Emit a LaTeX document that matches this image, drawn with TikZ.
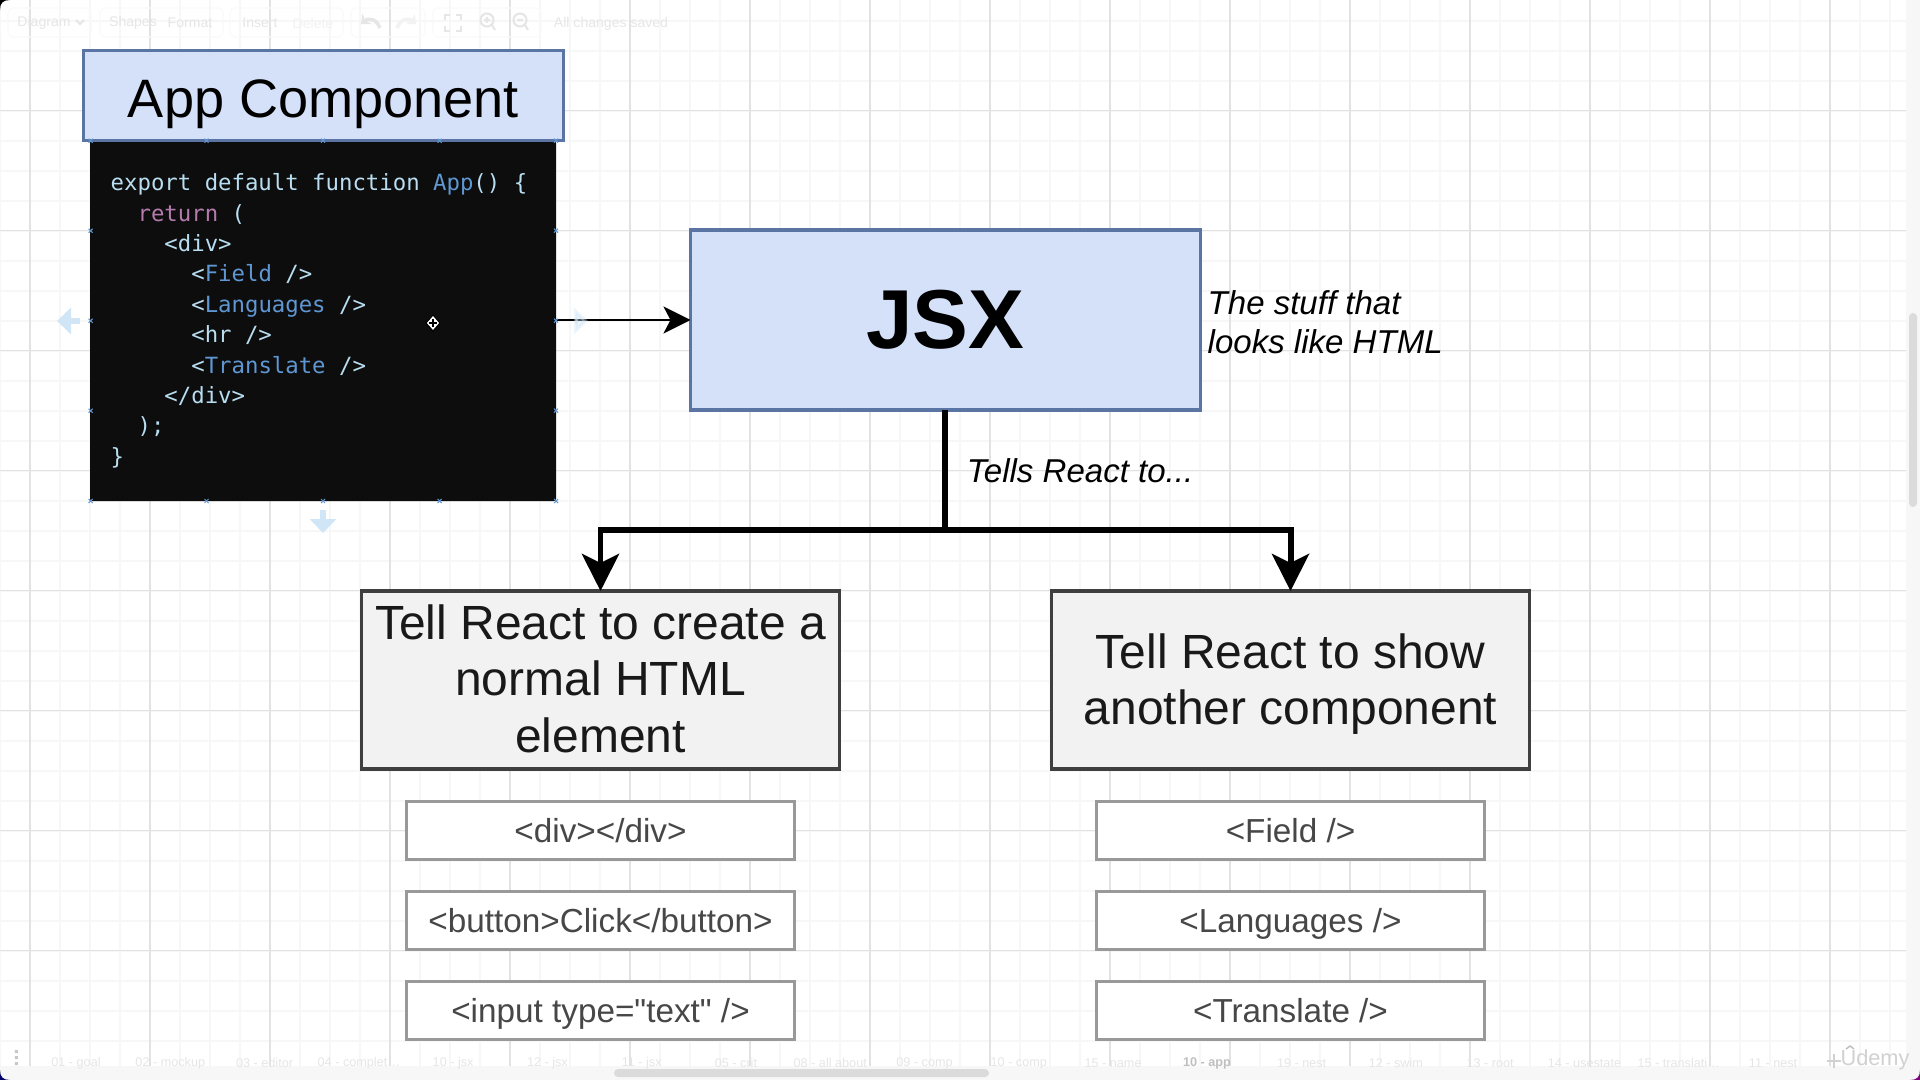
\documentclass[tikz,border=0pt]{standalone}
\usepackage{fontspec}
\setmainfont[Ligatures=TeXOff]{Liberation Sans}
\setmonofont{DejaVu Sans Mono}
\usetikzlibrary{arrows.meta}

\definecolor{gridmajor}{HTML}{E2E2E2}
\definecolor{gridminor}{HTML}{F7F7F7}
\definecolor{bluefill}{HTML}{D4E1F9}
\definecolor{blueline}{HTML}{5A74A3}
\definecolor{greyfill}{HTML}{F2F2F2}
\definecolor{darkline}{HTML}{3F3F3F}
\definecolor{tagline}{HTML}{999999}
\definecolor{tagtext}{HTML}{474747}
\definecolor{codeback}{HTML}{0D0D0D}
\definecolor{codetext}{HTML}{B9DEF2}
\definecolor{codecomp}{HTML}{5F97D3}
\definecolor{codekey}{HTML}{B57BAE}
\definecolor{handle}{HTML}{D0E6F6}
\definecolor{faint}{HTML}{E6E6E6}

\tikzset{
	titlebox/.style={draw=blueline,fill=bluefill,line width=1pt,outer sep=0pt,inner sep=0pt},
	tellbox/.style={draw=darkline,fill=greyfill,line width=1pt,outer sep=0pt,inner sep=0pt,
		minimum width=4.78cm,minimum height=1.78cm},
	telltext/.style={align=center,inner sep=0pt,text=black!90,
		font={\fontsize{13.65pt}{16.1pt}\selectfont}},
	tagbox/.style={draw=tagline,fill=white,line width=0.85pt,outer sep=0pt,inner sep=0pt,
		minimum width=3.88cm,minimum height=0.58cm,text=tagtext,text height=6.8pt,text depth=0pt,
		font={\fontsize{9.47pt}{11pt}\selectfont}},
	note/.style={align=left,inner sep=0pt,font={\itshape\fontsize{9.4pt}{11pt}\selectfont}},
	uitext/.style={inner sep=0pt,text=faint,font={\fontsize{4pt}{5pt}\selectfont}},
	tabtext/.style={inner sep=0pt,text=faint,font={\fontsize{3.6pt}{4pt}\selectfont}},
	uibox/.style={draw=black!2,rounded corners=0.05cm,line width=0.3pt},
	uiicon/.style={draw=faint,line width=0.6pt},
	handlearrow/.style={draw=handle,line width=1.5pt,-{Triangle[length=1.4mm,width=2.6mm]}},
	forkline/.style={line width=1.7pt,-{Stealth[length=3.7mm,width=3.7mm,inset=0.9mm]}},
	jsxline/.style={line width=0.85pt,-{Stealth[length=2.7mm,width=2.7mm,inset=0.7mm]}},
}
\newcommand{\comp}[1]{\textcolor{codecomp}{#1}}

\begin{document}
\begin{tikzpicture}[x=1cm,y=-1cm]
	\useasboundingbox (0,0) rectangle (19.2,10.8);
	\fill[white] (0,0) rectangle (19.2,10.8);

	%GRID
	\foreach \gx in {0,0.3,...,19.06} \draw[gridminor,line width=0.55pt] (\gx,0)--(\gx,10.66);
	\foreach \gy in {0.207,0.507,...,10.66} \draw[gridminor,line width=0.55pt] (0,\gy)--(19.06,\gy);
	\foreach \gx in {0.3,1.5,...,19.06} \draw[gridmajor,line width=0.4pt] (\gx,0)--(\gx,10.66);
	\foreach \gy in {1.107,2.307,...,10.66} \draw[gridmajor,line width=0.4pt] (0,\gy)--(19.06,\gy);

	%WINDOW EDGES
	\fill[black!3] (19.06,0) rectangle (19.2,10.8);
	\fill[black!3] (0,10.66) rectangle (19.2,10.8);
	\fill[black!14,rounded corners=0.04cm] (19.09,3.13) rectangle (19.17,5.07);
	\fill[black!14,rounded corners=0.04cm] (6.14,10.69) rectangle (9.89,10.77);
	\fill[black] (0,0)--(0.1,0) .. controls (0.03,0) and (0,0.03) .. (0,0.1)--cycle;
	\fill[blue!40!black] (0,10.7) .. controls (0,10.77) and (0.03,10.8) .. (0.1,10.8)--(0,10.8)--cycle;
	\fill[violet] (19.2,10.7) .. controls (19.2,10.77) and (19.17,10.8) .. (19.1,10.8)--(19.2,10.8)--cycle;

	%TOOLBAR
	\draw[uibox] (0.08,0.08) rectangle (0.91,0.37);
	\draw[uibox] (1,0.08) rectangle (2.23,0.37);
	\draw[uibox] (2.3,0.08) rectangle (3.43,0.37);
	\draw[uibox] (3.51,0.08) rectangle (4.25,0.37);
	\draw[uibox] (4.33,0.08) rectangle (5.41,0.37);
	\node[uitext] (diagram) at (0.44,0.23) {Diagram};
	\node[uitext] (shapes) at (1.33,0.23) {Shapes};
	\node[uitext] (format) at (1.9,0.23) {Format};
	\node[uitext] (insert) at (2.6,0.23) {Insert};
	\node[uitext,text=black!5] (delete) at (3.13,0.23) {Delete};
	\node[uitext] (saved) at (6.11,0.235) {All changes saved};
	\draw[uiicon] (0.76,0.2)--(0.8,0.24)--(0.84,0.2);								%menu arrow
	\draw[uiicon,line width=1pt,-{Stealth[length=0.8mm,width=1.4mm]}] (3.8,0.28) .. controls (3.76,0.18) and (3.68,0.18) .. (3.61,0.24);	%undo
	\draw[draw=black!5,line width=1pt,-{Stealth[length=0.8mm,width=1.4mm]}] (3.97,0.28) .. controls (4.01,0.18) and (4.09,0.18) .. (4.16,0.24);	%redo
	\draw[uiicon] (4.45,0.2)--(4.45,0.15)--(4.5,0.15) (4.56,0.15)--(4.61,0.15)--(4.61,0.2)
		(4.61,0.26)--(4.61,0.31)--(4.56,0.31) (4.5,0.31)--(4.45,0.31)--(4.45,0.26);	%fit
	\draw[uiicon] (4.87,0.2) circle (0.065cm) (4.92,0.25)--(4.95,0.3) (4.84,0.2)--(4.9,0.2) (4.87,0.17)--(4.87,0.23);	%zoom in
	\draw[uiicon] (5.2,0.2) circle (0.065cm) (5.25,0.25)--(5.28,0.3) (5.17,0.2)--(5.23,0.2);	%zoom out

	%PAGE TABS
	\foreach \n/\tabname in {0/01 - goal,1/02 - mockup,2/03 - editor,3/04 - complet…,4/10 - jsx,5/12 - jsx,
		6/11 - jsx,7/05 - crit,8/08 - all about,9/09 - comp,10/10 - comp,11/15 - name,13/19 - nest,
		14/12 - swim,15/13 - root,16/14 - usestate,17/15 - translati…,18/11 - nest}
		\node[tabtext] (tab\n) at ({0.76+0.9428*\n},10.63) {\tabname};
	\node[tabtext,text=black!25,font={\bfseries\fontsize{3.6pt}{4pt}\selectfont}] (tabapp) at (12.07,10.63) {10 - app};
	\fill[black!22] (0.15,10.5) rectangle (0.18,10.53) (0.15,10.56) rectangle (0.18,10.59) (0.15,10.62) rectangle (0.18,10.65);
	\node[inner sep=0pt,text=black!18,font={\fontsize{6.2pt}{7pt}\selectfont}] (udemy) at (18.75,10.6) {Udemy};
	\draw[black!18,line width=0.4pt] (18.34,10.54)--(18.34,10.68) (18.27,10.61)--(18.41,10.61);
	\draw[black!25,line width=0.4pt] (18.46,10.49)--(18.5,10.46)--(18.54,10.49);

	%APP COMPONENT
	\node[draw=none,fill=codeback,rounded corners=0.02cm,outer sep=0pt,minimum width=4.66cm,minimum height=3.6cm] (code) at (3.23,3.21) {};
	\node[titlebox,minimum width=4.8cm,minimum height=0.9cm,text height=12.3pt,text depth=0pt,font={\fontsize{15.4pt}{18pt}\selectfont}] (app) at (3.235,0.955) {App Component};
	\node[anchor=north west,inner sep=0pt,align=left,text=codetext,font={\ttfamily\fontsize{6.35pt}{8.65pt}\selectfont}] (codetext) at (1.1,1.73) {%
		export default function \comp{App}() \{\\
		~~\textcolor{codekey}{return} (\\
		~~~~<div>\\
		~~~~~~<\comp{Field} />\\
		~~~~~~<\comp{Languages} />\\
		~~~~~~<hr />\\
		~~~~~~<\comp{Translate} />\\
		~~~~</div>\\
		~~);\\
		\}};

	%JSX
	\node[titlebox,minimum width=5.1cm,minimum height=1.8cm,font={\bfseries\fontsize{23.8pt}{26pt}\selectfont}] (jsx) at (9.455,3.2) {JSX};
	\node[note,anchor=west] (stuff) at (12.07,3.225) {The stuff that\\looks like HTML};
	\node[note] (tells) at (10.8,4.71) {Tells React to...};

	%TELL BOXES
	\node[tellbox] (html) at (6.005,6.8) {};
	\node[telltext,yshift=0.012cm] (htmltext) at (html) {Tell React to create a\\normal HTML\\element};
	\node[tellbox] (other) at (12.905,6.8) {};
	\node[telltext,yshift=-0.04cm] (othertext) at (other) {Tell React to show\\another component};

	%TAG BOXES
	\node[tagbox] (divtag) at (6.005,8.305) {<div></div>};
	\node[tagbox] (buttontag) at (6.005,9.205) {<button>Click</button>};
	\node[tagbox] (inputtag) at (6.005,10.105) {<input type="text" />};
	\node[tagbox] (fieldtag) at (12.905,8.305) {<Field />};
	\node[tagbox] (langtag) at (12.905,9.205) {<Languages />};
	\node[tagbox] (transtag) at (12.905,10.105) {<Translate />};

	%CONNECTORS
	\coordinate (fork) at (9.448,5.3);
	\draw[jsxline] (code.east |- jsx.west)--(jsx.west);
	\draw[line width=1.7pt] (fork |- jsx.south)--(fork);
	\draw[forkline] (fork)-|(html.north);
	\draw[forkline] (fork)-|(other.north);

	%SELECTION HANDLES
	\foreach \hx in {0.906,2.065,3.23,4.396,5.56} {
		\foreach \hy in {1.407,5.01} \draw[codecomp,line width=0.3pt] (\hx-0.02,\hy-0.02)--(\hx+0.02,\hy+0.02) (\hx-0.02,\hy+0.02)--(\hx+0.02,\hy-0.02);
	}
	\foreach \hx in {0.906,5.56} {
		\foreach \hy in {2.307,3.207,4.107} \draw[codecomp,line width=0.3pt] (\hx-0.02,\hy-0.02)--(\hx+0.02,\hy+0.02) (\hx-0.02,\hy+0.02)--(\hx+0.02,\hy-0.02);
	}
	\draw[handlearrow] (0.8,3.21)--(0.57,3.21);
	\draw[handlearrow] (3.23,5.1)--(3.23,5.33);
	\draw[handlearrow,opacity=0.4] (5.78,3.21)--(5.88,3.21);

	%CURSOR
	\draw[black,fill=white,line width=0.3pt] (4.33,3.15)--(4.4,3.23)--(4.33,3.31)--(4.26,3.23)--cycle;
	\draw[black,line width=0.4pt] (4.29,3.23)--(4.37,3.23) (4.33,3.19)--(4.33,3.27);
\end{tikzpicture}
\end{document}
